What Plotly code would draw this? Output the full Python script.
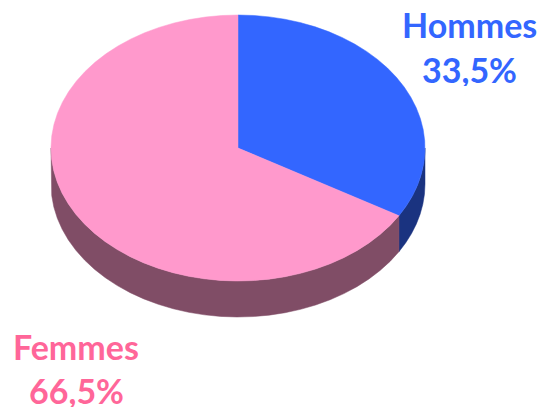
import math
import plotly.graph_objects as go

categories = ["Hommes", "Femmes"]
values = [33.5, 66.5]
value_labels = ["33,5%", "66,5%"]
top_colors = ["#3366FF", "#FF99CC"]
side_colors = ["#1A3380", "#804D66"]
label_colors = ["#3366FF", "#FF6699"]
label_x = [469.5, 76]
label_y = [[24, 69], [346, 390]]

CX, CY, RX, RY, DEPTH = 238, 148, 187, 133, 36
STEP = 5.0
FONT = "Lato, Carlito, Calibri, sans-serif"


def pt(deg, dy=0):
    a = math.radians(deg)
    return CX + RX * math.sin(a), CY - RY * math.cos(a) + dy


def arc(a0, a1, dy=0):
    n = max(1, math.ceil(abs(a1 - a0) / STEP))
    return [pt(a0 + (a1 - a0) * i / n, dy) for i in range(n + 1)]


def poly(points, color):
    xs = [p[0] for p in points] + [points[0][0]]
    ys = [p[1] for p in points] + [points[0][1]]
    return go.Scatter(x=xs, y=ys, mode="lines", fill="toself", fillcolor=color,
                      line=dict(color=color, width=0.5), hoverinfo="skip", showlegend=False)


fig = go.Figure()
total = sum(values)
angle = 0.0
spans = []
for v in values:
    spans.append((angle, angle + 360 * v / total))
    angle += 360 * v / total

# side walls: only the front half of the disc (90° to 270°) is visible
for (a0, a1), c in zip(spans, side_colors):
    s0, s1 = max(a0, 90), min(a1, 270)
    if s1 > s0:
        top_edge = arc(s0, s1)
        bottom_edge = arc(s1, s0, DEPTH)
        fig.add_trace(poly(top_edge + bottom_edge, c))

# top faces
for (a0, a1), c in zip(spans, top_colors):
    fig.add_trace(poly([(CX, CY)] + arc(a0, a1), c))

for i, name in enumerate(categories):
    for txt, y in zip((name, value_labels[i]), label_y[i]):
        fig.add_annotation(x=label_x[i], y=y, text=f"<b>{txt}</b>", showarrow=False,
                           xanchor="center", yanchor="middle", height=34,
                           font=dict(family=FONT, size=34, color=label_colors[i]))

fig.update_layout(
    width=542, height=407, margin=dict(l=0, r=0, t=0, b=0),
    paper_bgcolor="white", plot_bgcolor="white", showlegend=False,
    xaxis=dict(range=[0, 542], visible=False, fixedrange=True),
    yaxis=dict(range=[407, 0], visible=False, fixedrange=True),
)
fig.write_html("out.html", config={"displayModeBar": False},
               post_script="document.body.style.margin='0';document.body.style.overflow='hidden';")
